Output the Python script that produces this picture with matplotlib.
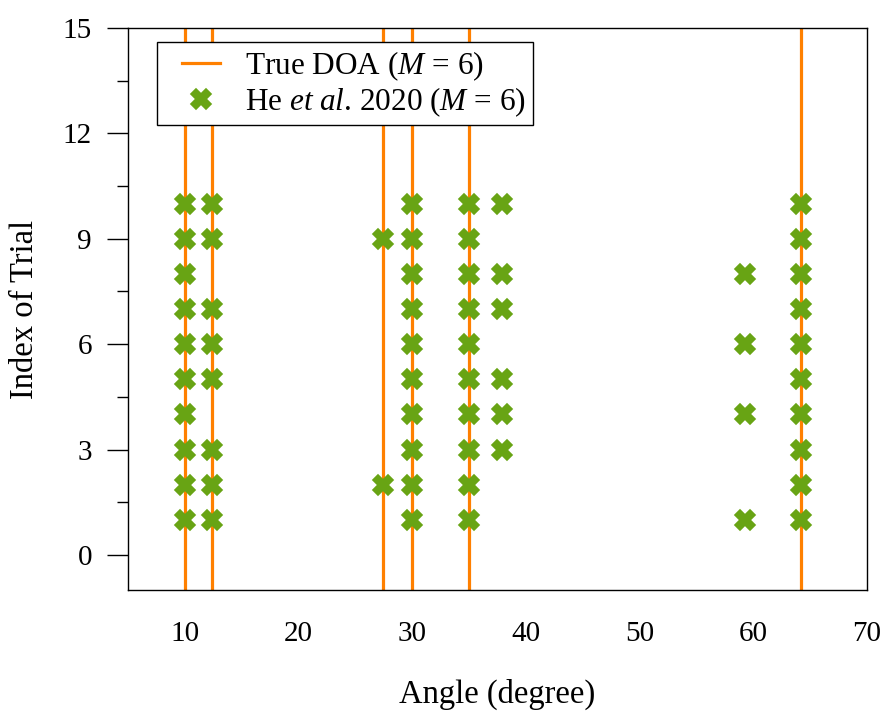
import matplotlib
matplotlib.use("Agg")
import numpy as np
import matplotlib.pyplot as plt
from matplotlib.ticker import MultipleLocator
from matplotlib.legend_handler import HandlerLine2D

plt.rcParams["font.family"] = ["Liberation Serif", "DejaVu Serif"]
plt.rcParams["mathtext.fontset"] = "custom"
plt.rcParams["mathtext.rm"] = "Liberation Serif"
plt.rcParams["mathtext.it"] = "Liberation Serif:italic"

# True directions of arrival (degrees)
true_doa = [10.0, 12.4, 27.4, 30.0, 35.0, 64.2]

# Estimated angles per column and the trial indices where they appear
est_angles = [10.0, 12.4, 27.4, 30.0, 35.0, 37.9, 59.3, 64.2]
est_trials = [
    [1, 2, 3, 4, 5, 6, 7, 8, 9, 10],
    [1, 2, 3, 5, 6, 7, 9, 10],
    [2, 9],
    [1, 2, 3, 4, 5, 6, 7, 8, 9, 10],
    [1, 2, 3, 4, 5, 6, 7, 8, 9, 10],
    [3, 4, 5, 7, 8, 10],
    [1, 4, 6, 8],
    [1, 2, 3, 4, 5, 6, 7, 8, 9, 10],
]

xs = [a for a, t in zip(est_angles, est_trials) for _ in t]
ys = [v for t in est_trials for v in t]


class InsetLineHandler(HandlerLine2D):
    """Legend handle whose line starts part-way into the handle box."""

    def __init__(self, lead=0.33, **kw):
        super().__init__(**kw)
        self.lead = lead

    def create_artists(self, legend, orig_handle, xdescent, ydescent,
                       width, height, fontsize, trans):
        arts = super().create_artists(legend, orig_handle, xdescent, ydescent,
                                      width, height, fontsize, trans)
        x0 = -xdescent + self.lead * width
        x1 = -xdescent + width
        for a in arts:
            n = len(a.get_xdata())
            a.set_xdata(np.linspace(x0, x1, n))
        return arts


fig = plt.figure(figsize=(8.87, 7.13), dpi=100)
ax = fig.add_axes([0.1443, 0.1725, 0.8332, 0.7882])

orange = "#ff8000"
green = "#68a414"

for i, d in enumerate(true_doa):
    ax.axvline(d, color=orange, lw=2.3, zorder=1,
               label="True DOA ($M$ = 6)" if i == 0 else None)

ax.plot(xs, ys, linestyle="none", marker="X", markersize=15,
        color=green, markeredgecolor=green, markeredgewidth=1.2,
        zorder=2, label="He $\\mathit{et\\ al}$. 2020 ($M$ = 6)")

ax.set_xlim(5, 70)
ax.set_ylim(-1, 15)
ax.set_xticks([10, 20, 30, 40, 50, 60, 70])
ax.yaxis.set_major_locator(MultipleLocator(3))
ax.yaxis.set_minor_locator(MultipleLocator(1.5))

ax.tick_params(axis="x", which="both", length=0, pad=22, labelsize=21)
ax.tick_params(axis="y", which="major", direction="out", length=15,
               width=1.0, pad=11, labelsize=21)
ax.tick_params(axis="y", which="minor", direction="out", length=8, width=1.0)

for s in ax.spines.values():
    s.set_linewidth(1.0)

ax.set_xlabel("Angle (degree)", fontsize=23.5, labelpad=23)
ax.set_ylabel("Index of Trial", fontsize=23.5, labelpad=16)

handles, labels = ax.get_legend_handles_labels()
hmap = {h: InsetLineHandler(lead=0.33) for h in handles}
leg = ax.legend(handles, labels, handler_map=hmap,
                loc="upper left", bbox_to_anchor=(0.039, 0.975),
                borderaxespad=0, fontsize=22.5, frameon=True, fancybox=False,
                edgecolor="black", framealpha=1, handlelength=1.8,
                handletextpad=0.8, borderpad=0.22, labelspacing=0.08)
leg.get_frame().set_linewidth(1.0)

fig.savefig("out.png", dpi=100)
